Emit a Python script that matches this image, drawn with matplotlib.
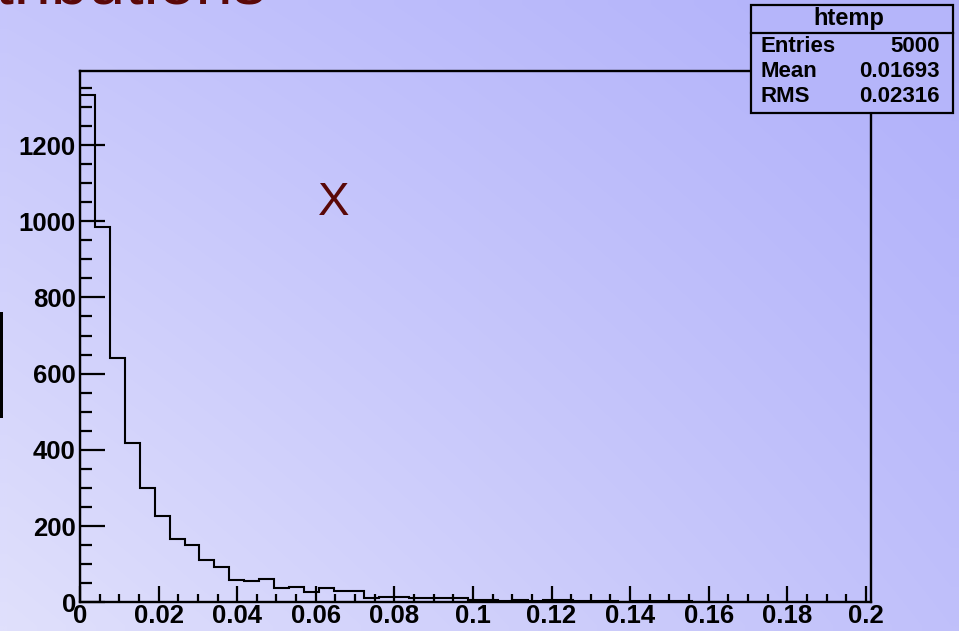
import matplotlib

matplotlib.use("Agg")

import matplotlib.pyplot as plt
import numpy as np
from matplotlib.patches import Rectangle
from matplotlib.ticker import MultipleLocator, FuncFormatter

# histogram contents (bin width 0.0038, starting at 0)
bin_width = 0.0038
counts = [1330, 986, 642, 419, 301, 226, 165, 150, 111, 93,
          59, 56, 60, 37, 40, 26, 38, 30, 30, 10,
          15, 14, 12, 12, 10, 10, 5, 5, 4, 5,
          4, 7, 6, 4, 4, 4, 2, 4, 4, 4,
          3, 0, 0, 0, 0, 0, 0, 0, 0, 0,
          0, 0, 0]
stat_names = ["Entries", "Mean", "RMS"]
stat_values = ["5000", "0.01693", "0.02316"]
hist_name = "htemp"
x_title = "X"
slide_title = "Distributions"

W, H = 959, 631
plt.rcParams["font.family"] = ["Liberation Sans", "DejaVu Sans"]

fig = plt.figure(figsize=(W / 100, H / 100), dpi=100)

# slide background gradient
bg = fig.add_axes([0, 0, 1, 1], zorder=-1)
gx, gy = np.meshgrid(np.linspace(0, 1, 64), np.linspace(0, 1, 64))
tl, tr = np.array([198, 198, 252]), np.array([176, 176, 250])
bl, br = np.array([224, 224, 252]), np.array([192, 192, 250])
grad = ((1 - gx)[..., None] * ((1 - gy)[..., None] * tl + gy[..., None] * bl)
        + gx[..., None] * ((1 - gy)[..., None] * tr + gy[..., None] * br)) / 255
bg.imshow(grad, extent=[0, 1, 0, 1], aspect="auto", interpolation="bilinear")
bg.set_axis_off()


def px(x, y):
    return x / W, 1 - y / H


ax = fig.add_axes([80 / W, (H - 602.3) / H, (871 - 80) / W, (602.3 - 70.7) / H])
ax.patch.set_alpha(0)

edges = np.arange(len(counts) + 1) * bin_width
ax.stairs(counts, edges, color="black", linewidth=1.5, baseline=0)

ax.set_xlim(0, 0.2013)
ax.set_ylim(0, 1395)
ax.xaxis.set_major_locator(MultipleLocator(0.02))
ax.xaxis.set_minor_locator(MultipleLocator(0.005))
ax.yaxis.set_major_locator(MultipleLocator(200))
ax.yaxis.set_minor_locator(MultipleLocator(50))
ax.xaxis.set_major_formatter(FuncFormatter(lambda v, p: f"{v:g}"))
ax.yaxis.set_major_formatter(FuncFormatter(lambda v, p: f"{v:g}"))

for side in ["left", "bottom", "top", "right"]:
    ax.spines[side].set_linewidth(1.7)
ax.tick_params(axis="both", which="both", direction="in", color="black", width=1.6)
ax.tick_params(axis="x", which="major", length=11.5, pad=1.5, labelsize=18.5)
ax.tick_params(axis="x", which="minor", length=5.8)
ax.tick_params(axis="y", which="major", length=18, pad=3, labelsize=18.5)
ax.tick_params(axis="y", which="minor", length=8.6)
for lab in ax.get_xticklabels() + ax.get_yticklabels():
    lab.set_fontweight("bold")

# axis title placed inside the frame as in the reference
fig.text(*px(334, 203), x_title, fontsize=34, color="#5a0808", ha="center", va="center")

# partly visible slide title at the top edge
fig.text(*px(266, 4), slide_title, fontsize=48, color="#5a0808", ha="right", va="baseline")

# black bar at the left edge
fig.add_artist(Rectangle(px(0, 417.7), 3 / W, 106 / H, transform=fig.transFigure,
                         facecolor="black", edgecolor="none"))

# stats box
box_col = (181 / 255, 181 / 255, 250 / 255)
fig.add_artist(Rectangle(px(751, 113), (953 - 751) / W, (113 - 5) / H, transform=fig.transFigure,
                         facecolor=box_col, edgecolor="black", linewidth=1.6, zorder=5))
fig.add_artist(plt.Line2D([751 / W, 953 / W], [1 - 33 / H, 1 - 33 / H], transform=fig.transFigure,
                          color="black", linewidth=1.6, zorder=6))
fig.text(*px(849, 19), hist_name, fontsize=17, fontweight="bold", ha="center", va="center", zorder=7)
for i, (name, val) in enumerate(zip(stat_names, stat_values)):
    y = 46 + 25.5 * i
    fig.text(*px(761, y), name, fontsize=16, fontweight="bold", ha="left", va="center", zorder=7)
    fig.text(*px(940, y), val, fontsize=16, fontweight="bold", ha="right", va="center", zorder=7)

fig.savefig("out.png", dpi=100)
plt.close(fig)
